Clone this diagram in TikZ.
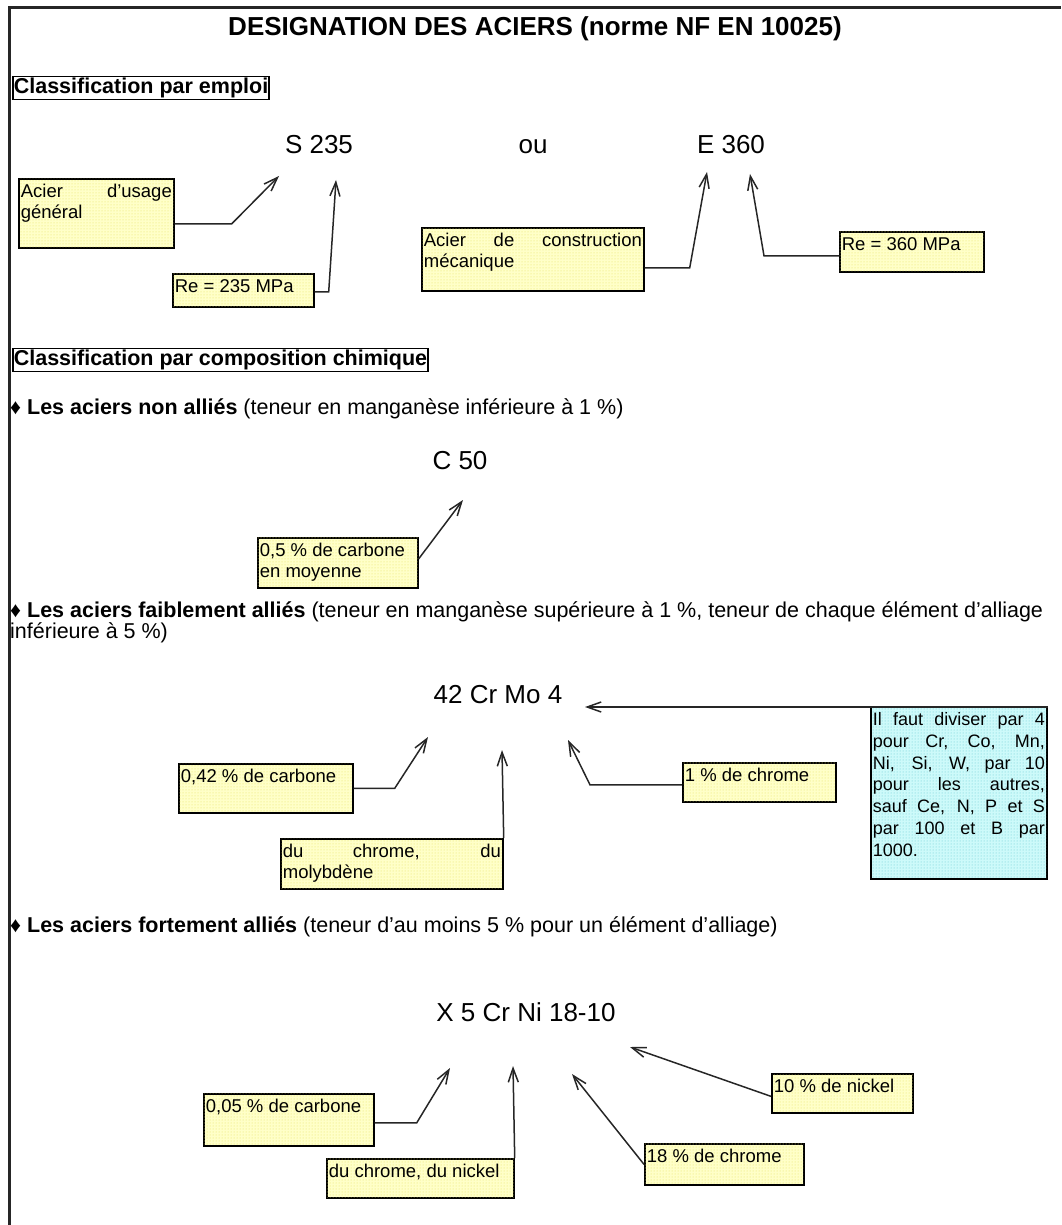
\documentclass[tikz,border=0pt]{standalone}
\usepackage{fontspec}
\setmainfont{Liberation Sans}
\usetikzlibrary{arrows.meta,patterns}

\definecolor{noteyellow}{RGB}{255,255,200}
\definecolor{dotyellow}{RGB}{230,225,100}
\definecolor{notecyan}{RGB}{205,250,250}
\definecolor{dotcyan}{RGB}{100,200,210}

\begin{document}
\begin{tikzpicture}[
  x=1pt, y=-1pt,
  every node/.style={inner sep=0pt},
  titre/.style={font=\bfseries\fontsize{26}{30}\selectfont},
  header/.style={draw, line width=1.6pt, anchor=west, inner xsep=1pt,
    inner ysep=1.5pt, font=\bfseries\fontsize{21.5}{24}\selectfont},
  bullet/.style={anchor=west, align=left, font=\fontsize{21.5}{21.5}\selectfont},
  grade/.style={anchor=base, font=\fontsize{26}{30}\selectfont},
  notebox/.style={draw, line width=1.7pt, anchor=north west, inner sep=2pt,
    align=justify, text height=17pt, font=\fontsize{18.5}{21}\selectfont},
  note/.style={notebox, fill=noteyellow,
    postaction={pattern=dots, pattern color=dotyellow}},
  bluenote/.style={notebox, fill=notecyan,
    postaction={pattern=dots, pattern color=dotcyan}},
  arr/.style={-{Straight Barb[length=14pt, width=10pt]}, line width=1.5pt,
    draw=black!85},
  frame/.style={line width=3pt, draw=black!85}
]
  \useasboundingbox (0,0) rectangle (1061,1225);
  \clip (0,0) rectangle (1061,1225);
  \draw[frame] (9,1225) -- (9,8) -- (1061,8);

  \node[titre] (title) at (535,29) {DESIGNATION DES ACIERS (norme NF EN 10025)};

  % classification par emploi
  \node[header] (emploi) at (12,88) {Classification par emploi};
  \node[grade] (sA) at (319,154) {S 235};
  \node[grade] (ou) at (533,154) {ou};
  \node[grade] (eA) at (731,154) {E 360};

  \node[note, text width=151pt, text depth=48pt] (usage) at (18,178)
    {Acier d'usage\linebreak général};
  \node[note, text width=137pt, text depth=12pt] (reA) at (172,273)
    {Re = 235 MPa};
  \node[note, text width=218pt, text depth=42pt] (constr) at (421,227)
    {Acier de construction\linebreak mécanique};
  \node[note, text width=140pt, text depth=19pt] (reB) at (839,231)
    {Re = 360 MPa};

  \coordinate (tUsage) at (279,176);
  \coordinate (tReA) at (336,180);
  \coordinate (tConstr) at (707,172);
  \coordinate (tReB) at (750,174);

  \draw[arr] ([yshift=-10.5pt]usage.east) -- ++(57,0) -- (tUsage);
  \draw[arr] ([yshift=-1.5pt]reA.east) -- ++(14,0) -- (tReA);
  \draw[arr] ([yshift=-8.5pt]constr.east) -- ++(45,0) -- (tConstr);
  \draw[arr] ([yshift=-4pt]reB.west) -- ++(-75,0) -- (tReB);

  % classification par composition chimique
  \node[header] (chimie) at (12,360) {Classification par composition chimique};

  \node[bullet] (nonallie) at (10,409)
    {♦ \textbf{Les aciers non alliés} (teneur en manganèse inférieure à 1 \%)};
  \node[grade] (cA) at (460,469) {C 50};
  \node[note, text width=156pt, text depth=29pt] (moyenne) at (257,537)
    {0,5 \% de carbone\\en moyenne};
  \coordinate (tMoy) at (463,500);
  \draw[arr] ([yshift=4pt]moyenne.east) -- (tMoy);

  \node[bullet, anchor=north west] (faible) at (10,601)
    {♦ \textbf{Les aciers faiblement alliés} (teneur en manganèse supérieure à 1 \%, teneur de chaque élément d'alliage\\inférieure à 5 \%)};
  \node[grade] (crmo) at (498,703) {42 Cr Mo 4};

  \node[note, text width=170pt, text depth=28pt] (carbA) at (178,763)
    {0,42 \% de carbone};
  \node[note, text width=218pt, text depth=29pt] (molyb) at (280,838)
    {du chrome, du\linebreak molybdène};
  \node[note, text width=149pt, text depth=18pt] (chromA) at (682,762)
    {1 \% de chrome};
  \node[bluenote, text width=172pt, text depth=151pt,
    font=\fontsize{18}{21.7}\selectfont] (regle) at (870,706)
    {Il faut diviser par 4\linebreak pour Cr, Co, Mn,\linebreak Ni, Si, W, par 10\linebreak pour les autres,\linebreak sauf Ce, N, P et S\linebreak par 100 et B par\linebreak 1000.};

  \coordinate (tCarbA) at (428,737);
  \coordinate (tMolyb) at (502,750);
  \coordinate (tChromA) at (568,740);
  \coordinate (tRegle) at (585,707);

  \draw[arr] (carbA.east) -- ++(41,0) -- (tCarbA);
  \draw[arr] (molyb.north east) -- (tMolyb);
  \draw[arr] ([yshift=-2.5pt]chromA.west) -- ++(-92,0) -- (tChromA);
  \draw[arr] ([yshift=-1pt]regle.north east) -- (tRegle);

  \node[bullet] (forte) at (10,927)
    {♦ \textbf{Les aciers fortement alliés} (teneur d'au moins 5 \% pour un élément d'alliage)};
  \node[grade] (crni) at (526,1021) {X 5 Cr Ni 18-10};

  \node[note, text width=166pt, text depth=31pt] (carbB) at (203,1093)
    {0,05 \% de carbone};
  \node[note, text width=183pt, text depth=18pt] (chrni) at (326,1158)
    {du chrome, du nickel};
  \node[note, text width=155pt, text depth=20pt] (chromB) at (644,1143)
    {18 \% de chrome};
  \node[note, text width=137pt, text depth=18pt] (nickB) at (771,1073)
    {10 \% de nickel};

  \coordinate (tCarbB) at (450,1068);
  \coordinate (tChrni) at (513,1066);
  \coordinate (tChromB) at (572,1074);
  \coordinate (tNickB) at (630,1047);

  \draw[arr] ([yshift=-3pt]carbB.east) -- ++(42,0) -- (tCarbB);
  \draw[arr] (chrni.north east) -- (tChrni);
  \draw[arr] (chromB.west) -- (tChromB);
  \draw[arr] ([yshift=-3pt]nickB.west) -- (tNickB);
\end{tikzpicture}
\end{document}
